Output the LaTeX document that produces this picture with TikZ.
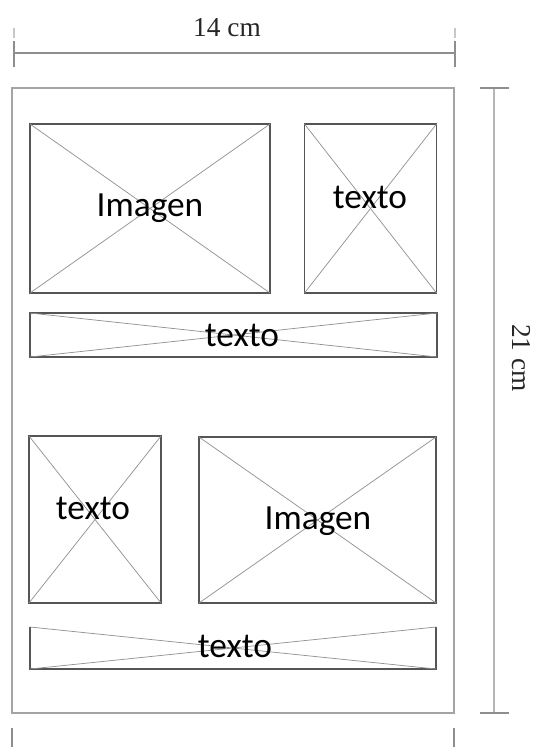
\documentclass[tikz,border=0pt]{standalone}
\usepackage{fontspec}
\setmainfont{Liberation Serif}
\newfontfamily\lblfont{Carlito}
\definecolor{boxgray}{HTML}{555555}
\definecolor{diagcol}{HTML}{929292}
\definecolor{pagecol}{HTML}{A4A4A4}
\definecolor{dimcol}{HTML}{8E8E8E}
\definecolor{extcol}{HTML}{C8C8C8}
\begin{document}
\begin{tikzpicture}[x=0.75pt,y=-0.75pt,
  frame/.style={rectangle,inner sep=0pt,outer sep=0pt,draw=none},
  sz/.style 2 args={minimum width={0.75pt*#1},minimum height={0.75pt*#2}},
  edge/.style={draw=boxgray,line width=0.85pt},
  diag/.style={draw=diagcol,line width=0.55pt},
  lbl/.style={font=\lblfont\fontsize{26.5}{29}\selectfont,inner sep=0pt,anchor=base,text=black},
  dimlbl/.style={font=\fontsize{20.5}{23}\selectfont,inner sep=0pt,text=black!85},
  dimline/.style={draw=dimcol,line width=1.1pt},
  rdimline/.style={draw=pagecol!80,line width=1.5pt},
  extline/.style={draw=extcol,line width=0.9pt}]
\useasboundingbox (0,0) rectangle (538,747);

% page
\node[frame,draw=pagecol,line width=1.1pt,sz={442}{625}] (page) at (233,400.5) {};

% boxes (center, size)
\node[frame,sz={240}{169}] (img1) at (150,208.5) {};
\node[frame,sz={132}{169}] (txt1) at (370.5,208.5) {};
\node[frame,sz={407}{44}] (band1) at (233.5,335) {};
\node[frame,sz={132}{167}] (txt2) at (95,519.5) {};
\node[frame,sz={237}{166}] (img2) at (317.5,520) {};
\node[frame,sz={406}{42}] (band2) at (233,648) {};

% edges and crosses
\foreach \b in {img1,txt1,band1,txt2,img2}{
  \draw[edge] (\b.north west) rectangle (\b.south east);
  \draw[diag] (\b.north west) -- (\b.south east);
  \draw[diag] (\b.south west) -- (\b.north east);
}
\draw[edge] (band2.north west) -- (band2.south west) -- (band2.south east) -- (band2.north east);
\draw[diag] (band2.north west) -- (band2.south east);
\draw[diag] (band2.south west) -- (band2.north east);

% labels
\node[lbl] (limg1) at (150,216) {Imagen};
\node[lbl] (ltxt1) at (370,208) {texto};
\node[lbl] (lband1) at (242,346) {texto};
\node[lbl] (ltxt2) at (93,519) {texto};
\node[lbl] (limg2) at (318,529) {Imagen};
\node[lbl] (lband2) at (235,657) {texto};

% top dimension
\coordinate (tl) at (14,53);
\coordinate (tr) at (455,53);
\coordinate (tlt) at (14,41);
\coordinate (tlb) at (14,67);
\coordinate (trt) at (455,41);
\coordinate (trb) at (455,67);
\draw[dimline] (tl) -- (tr);
\draw[dimline] (tlt) -- (tlb);
\draw[dimline] (trt) -- (trb);
\node[dimlbl,anchor=base] (w14) at (227,36) {14 cm};
\coordinate (etl1) at (14,28);
\coordinate (etl2) at (14,38);
\coordinate (etr1) at (455,28);
\coordinate (etr2) at (455,38);
\draw[extline] (etl1) -- (etl2);
\draw[extline] (etr1) -- (etr2);

% right dimension
\coordinate (rt) at (494,88);
\coordinate (rb) at (494,713);
\coordinate (rtl) at (480,88);
\coordinate (rtr) at (509,88);
\coordinate (rbl) at (480,713);
\coordinate (rbr) at (509,713);
\draw[rdimline] (rt) -- (rb);
\draw[dimline] (rtl) -- (rtr);
\draw[dimline] (rbl) -- (rbr);
\node[dimlbl,rotate=-90,anchor=center] (h21) at (521,358) {21 cm};

% bottom extension lines
\coordinate (ebl1) at (12,728);
\coordinate (ebl2) at (12,747);
\coordinate (ebr1) at (454,728);
\coordinate (ebr2) at (454,747);
\draw[dimline] (ebl1) -- (ebl2);
\draw[dimline] (ebr1) -- (ebr2);
\end{tikzpicture}
\end{document}
